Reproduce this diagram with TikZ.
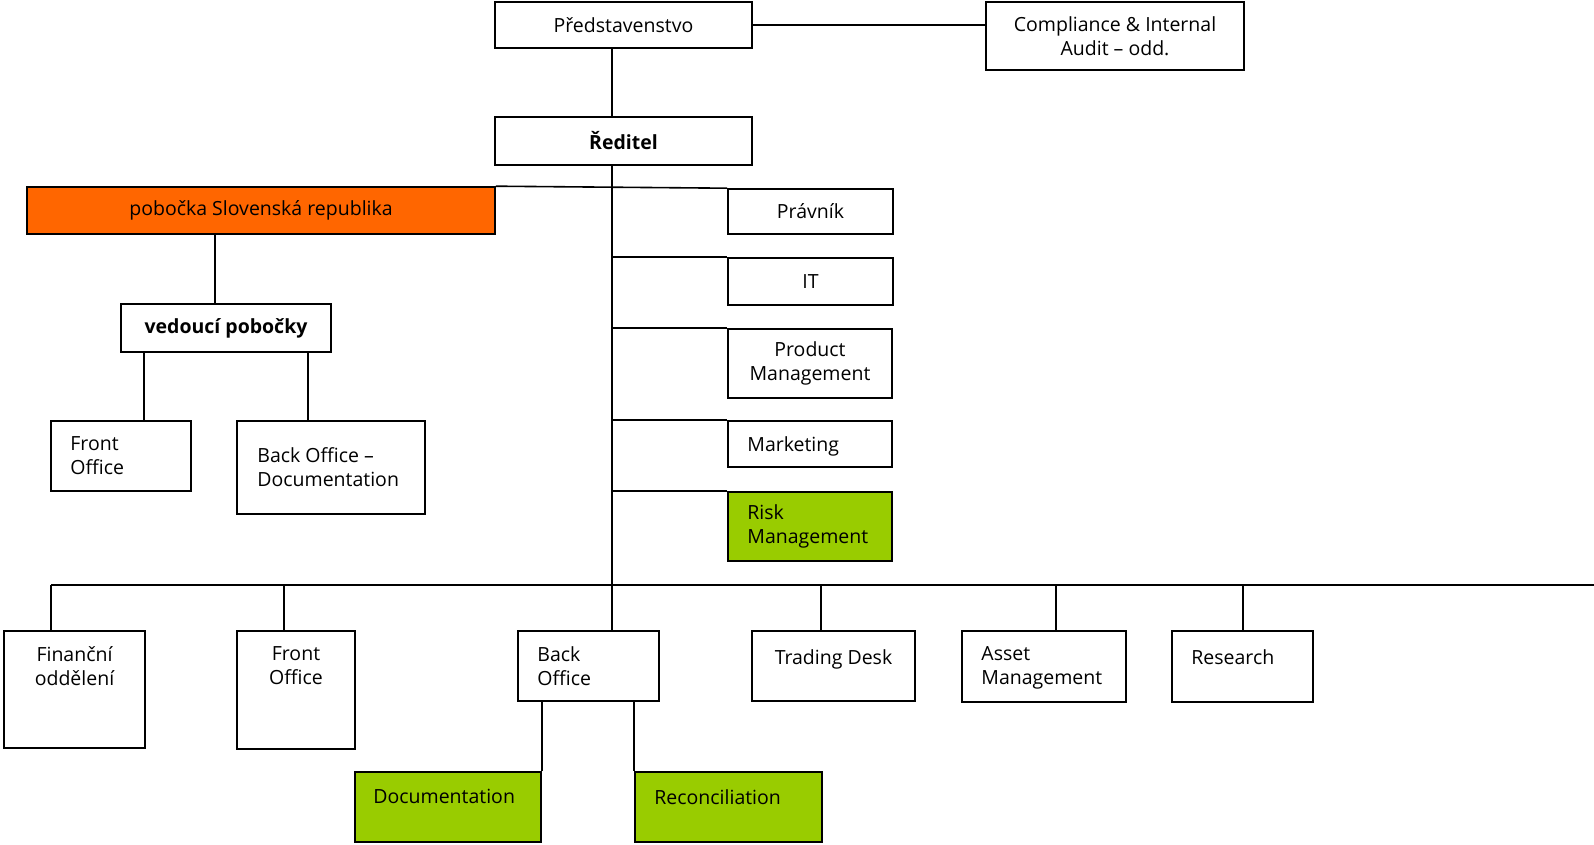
\documentclass[tikz,border=0pt]{standalone}
\usepackage{fontspec}
\setmainfont{Open Sans}
\usetikzlibrary{positioning}

\definecolor{branchorange}{HTML}{FF6600}
\definecolor{riskgreen}{HTML}{99CC00}

\tikzset{
  unit/.style={draw=black, fill=white, line width=1.6pt, inner sep=0pt, align=center},
  txt/.style={inner sep=0pt, align=left},
  link/.style={line width=1.6pt},
}

\begin{document}
\begin{tikzpicture}[x=1pt, y=-1pt, font=\fontsize{19.5}{24}\selectfont]
        \useasboundingbox (0,0) rectangle (1594,845);

        % top of the chart
        \node[unit, minimum width=257pt, minimum height=46pt] (pred) at (623.5,25) {Představenstvo};
        \node[unit, minimum width=258pt, minimum height=68pt] (comp) at (1115,36) {Compliance \& Internal\\Audit -- odd.};
        \node[unit, minimum width=257pt, minimum height=48pt] (red) at (623.5,141) {\bfseries Ředitel};

        % staff units on the right of the trunk
        \node[unit, minimum width=165pt, minimum height=45pt] (prav) at (810.5,211.5) {Právník};
        \node[unit, minimum width=165pt, minimum height=47pt] (it) at (810.5,281.5) {IT};
        \node[unit, minimum width=164pt, minimum height=69pt] (prod) at (810,363.5) {Product\\Management};
        \node[unit, minimum width=164pt, minimum height=46pt] (mkt) at (810,444) {};
        \node[unit, fill=riskgreen, minimum width=164pt, minimum height=69pt] (risk) at (810,526.5) {};
        \node[txt, right=20pt of mkt.west, yshift=-2pt] (mkt-t) {Marketing};
        \node[txt, right=20pt of risk.west] (risk-t) {Risk\\Management};

        % branch Slovakia
        \node[unit, fill=branchorange, minimum width=468pt, minimum height=47pt] (pob) at (261,210.5) {pobočka Slovenská republika};
        \node[unit, minimum width=210pt, minimum height=48pt] (ved) at (226,328) {\bfseries vedoucí pobočky};
        \node[unit, minimum width=140pt, minimum height=70pt] (pfo) at (121,456) {};
        \node[unit, minimum width=188pt, minimum height=93pt] (pbo) at (331,467.5) {};
        \node[txt, below right=16pt and 20pt of pfo.north west] (pfo-t) {Front\\Office};
        \node[txt, right=21pt of pbo.west] (pbo-t) {Back Office --\\Documentation};

        % departments under the bus
        \node[unit, minimum width=141pt, minimum height=117pt] (fin) at (74.5,689.5) {};
        \node[unit, minimum width=118pt, minimum height=118pt] (fo) at (296,690) {};
        \node[unit, minimum width=141pt, minimum height=70pt] (bo) at (588.5,666) {};
        \node[unit, minimum width=163pt, minimum height=70pt] (td) at (833.5,666) {};
        \node[unit, minimum width=164pt, minimum height=71pt] (am) at (1044,666.5) {};
        \node[unit, minimum width=141pt, minimum height=71pt] (rs) at (1242.5,666.5) {};
        \node[txt, align=center, below=16pt of fin.north] (fin-t) {Finanční\\oddělení};
        \node[txt, align=center, below=16pt of fo.north] (fo-t) {Front\\Office};
        \node[txt, below right=16pt and 20pt of bo.north west] (bo-t) {Back\\Office};
        \node[txt, align=center, below=19pt of td.north] (td-t) {Trading Desk};
        \node[txt, below right=16pt and 20pt of am.north west] (am-t) {Asset\\Management};
        \node[txt, below right=19pt and 20pt of rs.north west] (rs-t) {Research};

        % back office teams
        \node[unit, fill=riskgreen, minimum width=186pt, minimum height=70pt] (doc) at (448,807) {};
        \node[unit, fill=riskgreen, minimum width=187pt, minimum height=70pt] (rec) at (728.5,807) {};
        \node[txt, below right=18pt and 19pt of doc.north west] (doc-t) {Documentation};
        \node[txt, below right=18pt and 20pt of rec.north west] (rec-t) {Reconciliation};

        % connectors
        \coordinate (trunk) at (612,0);
        \coordinate (busL) at (51,585);
        \coordinate (busR) at (1594,585);
        \draw[link] (pred.east) -- (pred.east -| comp.west);
        \draw[link] (trunk |- pred.south) -- (trunk |- red.north);
        \draw[link] (trunk |- red.south) -- (trunk |- bo.north);
        \draw[link] (pob.north east) -- (prav.north west);
        \foreach \n in {it, prod, mkt, risk}
                \draw[link] (trunk |- \n.north west) -- (\n.north west);
        \draw[link] (215,0 |- pob.south) -- (215,0 |- ved.north);
        \draw[link] (144,0 |- ved.south) -- (144,0 |- pfo.north);
        \draw[link] (308,0 |- ved.south) -- (308,0 |- pbo.north);
        \draw[link] (busL) -- (busR);
        \foreach \n/\x in {fin/51, fo/284, td/821, am/1056, rs/1243}
                \draw[link] (\x,585) -- (\x,0 |- \n.north);
        \draw[link] (bo.south -| doc.north east) -- (doc.north east);
        \draw[link] (bo.south -| rec.north west) -- (rec.north west);
\end{tikzpicture}
\end{document}
